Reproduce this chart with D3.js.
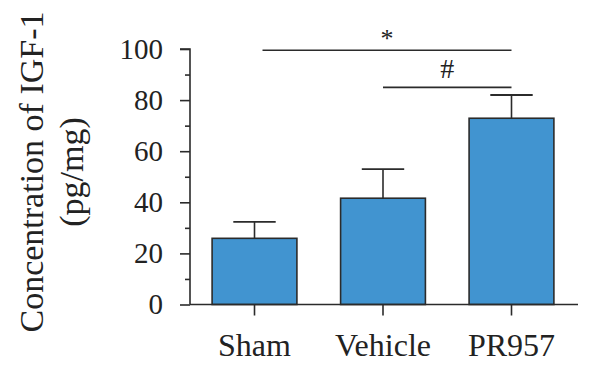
<!DOCTYPE html>
<html><head><meta charset="utf-8">
<script src="https://cdn.jsdelivr.net/npm/d3@7"></script>
<style>body{margin:0;background:#fff}svg{display:block}text{font-family:"Liberation Serif","DejaVu Serif",serif;fill:#222}</style>
</head><body>
<svg id="c" width="600" height="381"></svg>
<script>
const categories = ["Sham", "Vehicle", "PR957"];
const means = [25.9, 41.6, 72.9];
const errors = [6.4, 11.4, 9.1];
const yTicks = [0, 20, 40, 60, 80, 100];
const yMinorTicks = [10, 30, 50, 70, 90];
const sigMarks = [
  {from: "Sham", to: "PR957", level: 99.5, label: "*"},
  {from: "Vehicle", to: "PR957", level: 85, label: "#"}
];

const svg = d3.select("#c");
const x0 = 190, x1 = 578, yTop = 49, yBot = 304.5;
const x = d3.scaleBand().domain(categories).range([x0, 576]).paddingInner(0.34).paddingOuter(0.172);
const y = d3.scaleLinear().domain([0, 100]).range([yBot, yTop]);
const stroke = "#2b2b2b";

// bars
svg.selectAll("rect.bar").data(categories).enter().append("rect")
  .attr("x", d => x(d)).attr("width", x.bandwidth())
  .attr("y", (d,i) => y(means[i])).attr("height", (d,i) => yBot - y(means[i]))
  .attr("fill", "#4194d0").attr("stroke", stroke).attr("stroke-width", 1.6);

// error bars
categories.forEach((c,i) => {
  const cx = x(c) + x.bandwidth()/2;
  const hw = x.bandwidth()/4;
  svg.append("line").attr("x1", cx).attr("x2", cx).attr("y1", y(means[i])).attr("y2", y(means[i]+errors[i]))
    .attr("stroke", stroke).attr("stroke-width", 1.6);
  svg.append("line").attr("x1", cx-hw).attr("x2", cx+hw).attr("y1", y(means[i]+errors[i])).attr("y2", y(means[i]+errors[i]))
    .attr("stroke", stroke).attr("stroke-width", 1.8);
});

// y axis
const gy = svg.append("g").attr("transform", `translate(${x0},0)`);
gy.call(d3.axisLeft(y).tickValues(yTicks).tickSize(10).tickPadding(17));
const gym = svg.append("g").attr("transform", `translate(${x0},0)`);
gym.call(d3.axisLeft(y).tickValues(yMinorTicks).tickSize(5).tickFormat(""));
gym.select(".domain").remove();
[gy, gym].forEach(g => {
  g.selectAll("path,line").attr("stroke", stroke).attr("stroke-width", 1.6);
});
gy.select(".domain").attr("d", `M-10,${yTop}H0V${yBot}`);
gy.selectAll("text").attr("font-size", 29).attr("font-family", "Liberation Serif").attr("fill", "#222");

// x axis
const gx = svg.append("g").attr("transform", `translate(0,${yBot})`);
gx.call(d3.axisBottom(x).tickSize(11).tickPadding(18));
gx.select(".domain").attr("d", `M${x0},0H${x1}`);
gx.selectAll("path,line").attr("stroke", stroke).attr("stroke-width", 1.6);
gx.selectAll("text").attr("font-size", 32).attr("font-family", "Liberation Serif").attr("fill", "#222");

// y title
const yt = svg.append("text").attr("transform", "translate(43,172) rotate(-90)")
  .attr("text-anchor", "middle").attr("font-size", 34);
yt.append("tspan").attr("x", 0).attr("dy", 0).text("Concentration of IGF-1");
yt.append("tspan").attr("x", 0).attr("y", 40).text("(pg/mg)");

// significance
sigMarks.forEach(s => {
  const xa = s.from === "Sham" ? x(s.from) + x.bandwidth()/2 + 8 : x(s.from) + x.bandwidth()/2;
  const xb = x(s.to) + x.bandwidth()/2;
  const ly = y(s.level);
  svg.append("line").attr("x1", xa).attr("x2", xb).attr("y1", ly).attr("y2", ly)
    .attr("stroke", stroke).attr("stroke-width", 1.6);
  svg.append("text").attr("x", (xa+xb)/2).attr("y", s.label === "*" ? ly - 3 : ly - 9)
    .attr("text-anchor", "middle").attr("font-size", s.label === "*" ? 26 : 28)
    .attr("font-family", "DejaVu Sans").attr("font-weight", 200).text(s.label);
});
</script>
</body></html>
